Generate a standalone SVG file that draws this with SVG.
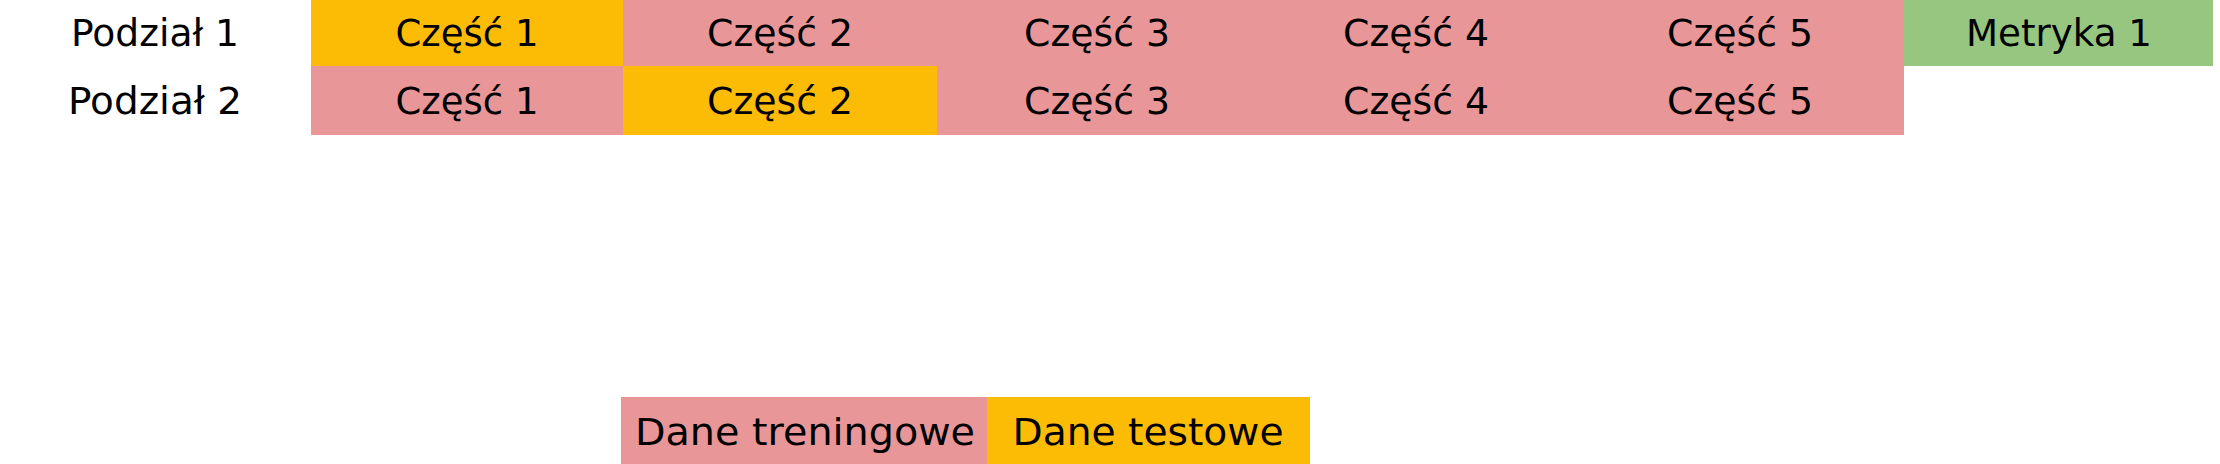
<svg xmlns="http://www.w3.org/2000/svg" width="2220" height="464" viewBox="0 0 2220 464">
<style>
.t{font-family:"DejaVu Sans","Liberation Sans",sans-serif;font-size:37px;fill:#000;text-anchor:middle}
.big{font-size:38px}
.train{fill:#E99698}
.test{fill:#FCBC05}
.metric{fill:#97C680}
</style>
<rect width="2220" height="464" fill="#fff"/>
<g id="labels">
<text class="t" x="155" y="46" textLength="168" lengthAdjust="spacingAndGlyphs">Podział 1</text>
<text class="t" x="155" y="114" textLength="174" lengthAdjust="spacingAndGlyphs">Podział 2</text>
</g>
<g id="row1">
<g id="r1c1"><rect class="test" x="311" y="0" width="313" height="66"/><text class="t" x="467" y="46" textLength="143" lengthAdjust="spacingAndGlyphs">Część 1</text></g>
<g id="r1c2"><rect class="train" x="623" y="0" width="315" height="66"/><text class="t" x="780" y="46" textLength="146" lengthAdjust="spacingAndGlyphs">Część 2</text></g>
<g id="r1c3"><rect class="train" x="937" y="0" width="320" height="66"/><text class="t" x="1097" y="46" textLength="146" lengthAdjust="spacingAndGlyphs">Część 3</text></g>
<g id="r1c4"><rect class="train" x="1256" y="0" width="322" height="66"/><text class="t" x="1416" y="46" textLength="146" lengthAdjust="spacingAndGlyphs">Część 4</text></g>
<g id="r1c5"><rect class="train" x="1577" y="0" width="327" height="66"/><text class="t" x="1740" y="46" textLength="146" lengthAdjust="spacingAndGlyphs">Część 5</text></g>
<g id="r1m"><rect class="metric" x="1904" y="0" width="309" height="66"/><text class="t" x="2059" y="46" textLength="186" lengthAdjust="spacingAndGlyphs">Metryka 1</text></g>
</g>
<g id="row2">
<g id="r2c1"><rect class="train" x="311" y="66" width="313" height="69"/><text class="t" x="467" y="114" textLength="143" lengthAdjust="spacingAndGlyphs">Część 1</text></g>
<g id="r2c2"><rect class="test" x="623" y="66" width="315" height="69"/><text class="t" x="780" y="114" textLength="146" lengthAdjust="spacingAndGlyphs">Część 2</text></g>
<g id="r2c3"><rect class="train" x="937" y="66" width="320" height="69"/><text class="t" x="1097" y="114" textLength="146" lengthAdjust="spacingAndGlyphs">Część 3</text></g>
<g id="r2c4"><rect class="train" x="1256" y="66" width="322" height="69"/><text class="t" x="1416" y="114" textLength="146" lengthAdjust="spacingAndGlyphs">Część 4</text></g>
<g id="r2c5"><rect class="train" x="1577" y="66" width="327" height="69"/><text class="t" x="1740" y="114" textLength="146" lengthAdjust="spacingAndGlyphs">Część 5</text></g>
</g>
<g id="connectors"></g>
<g id="legend">
<g id="legend-train"><rect class="train" x="621" y="397" width="367" height="67"/><text class="t big" x="805" y="445" textLength="340" lengthAdjust="spacingAndGlyphs">Dane treningowe</text></g>
<g id="legend-test"><rect class="test" x="987" y="397" width="323" height="67"/><text class="t big" x="1148" y="445" textLength="271" lengthAdjust="spacingAndGlyphs">Dane testowe</text></g>
</g>
</svg>
